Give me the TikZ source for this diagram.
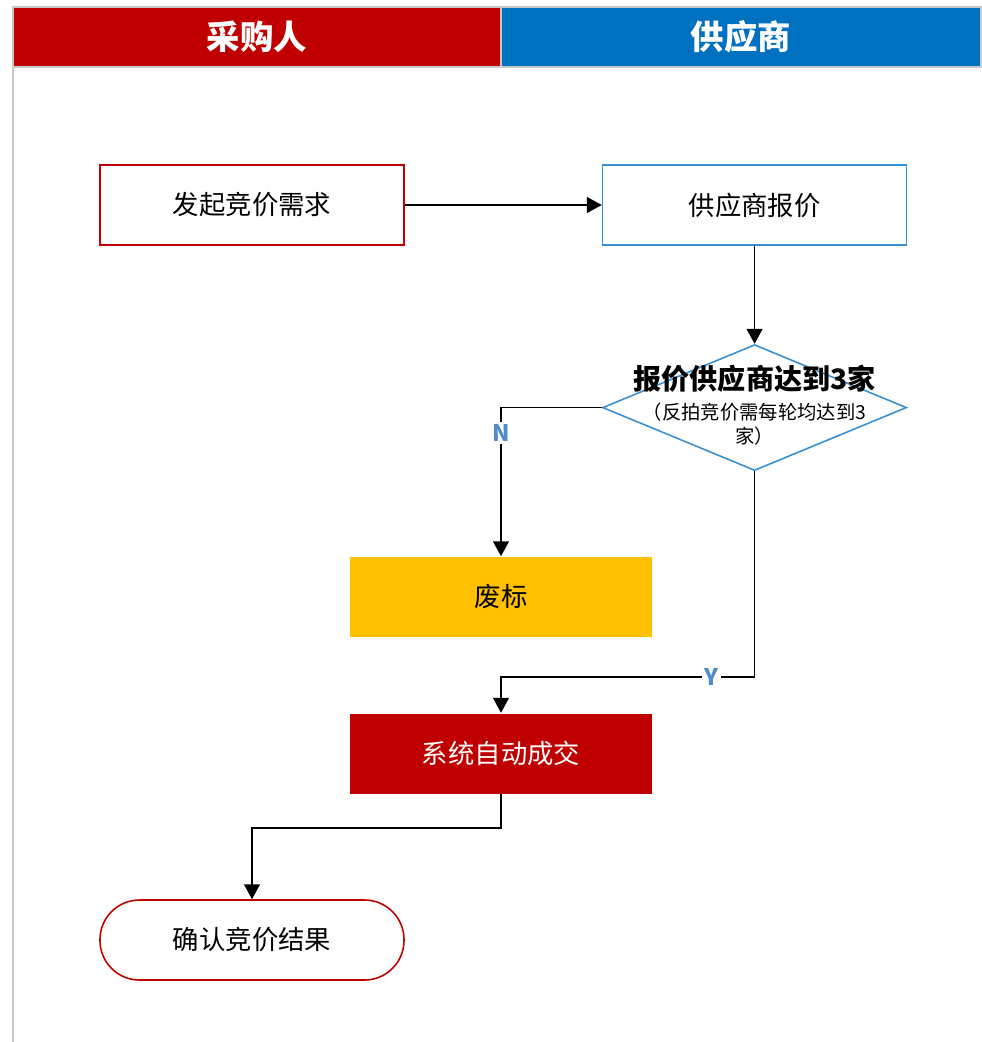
\documentclass[tikz,border=0pt]{standalone}
\usepackage{fontspec}
\setmainfont{Noto Sans CJK SC}
\usetikzlibrary{shapes,arrows.meta,positioning}

\definecolor{buyerred}{HTML}{C00000}
\definecolor{supblue}{HTML}{0070C0}
\definecolor{lineblue}{HTML}{3A8FD3}
\definecolor{failyellow}{HTML}{FFC000}
\definecolor{ynblue}{HTML}{4F8CC9}
\definecolor{frame}{HTML}{C8C8C8}

\begin{document}
\begin{tikzpicture}[
    node distance=1.96cm and 3.94cm,
    lanehead/.style={rectangle, draw=frame, line width=0.6pt, text=white, minimum height=1.2cm, font=\bfseries\fontsize{19}{22}\selectfont},
    box/.style={rectangle, draw, line width=0.9pt, fill=white, minimum width=6.08cm, minimum height=1.6cm, align=center, font=\fontsize{15}{18}\selectfont},
    buyerbox/.style={box, draw=buyerred},
    supbox/.style={box, draw=lineblue},
    failbox/.style={box, draw=none, fill=failyellow, minimum width=6.04cm},
    dealbox/.style={box, draw=none, fill=buyerred, text=white, minimum width=6.04cm},
    endbox/.style={box, draw=buyerred, rounded corners=0.79cm},
    decision/.style={diamond, draw=lineblue, line width=0.9pt, fill=white, minimum width=6.08cm, minimum height=2.52cm, inner sep=0pt},
    yn/.style={fill=white, text=ynblue, inner sep=1.5pt, font=\bfseries\fontsize{13}{15}\selectfont},
    arrow/.style={-{Triangle[length=8.5pt,width=9pt]}, line width=1pt}
]
\useasboundingbox (0,0) rectangle (19.62,-20.84);

% Swimlane headers
\draw[frame, line width=1pt] (0.26,-1.34) -- (0.26,-20.84);
\node[lanehead, fill=buyerred, minimum width=9.76cm] (buyer) at (5.14,-0.74) {采购人};
\node[lanehead, fill=supblue, minimum width=9.6cm] (supplier) at (14.82,-0.74) {供应商};

% Start
\node[buyerbox] (start) at (5.04,-4.10) {发起竞价需求};

% Supplier quote
\node[supbox, right=of start] (quote) {供应商报价};

% Decision
\node[decision, below=of quote] (check) {};
\node[align=center] (checktext) at ([yshift=0.05cm]check.center) {{\bfseries\fontsize{16}{19}\selectfont 报价供应商达到3家}\\[5pt]
    {\fontsize{11}{15}\selectfont （反拍竞价需每轮均达到3}\\[2pt]
    {\fontsize{11}{15}\selectfont 家）}};

% Outcomes
\node[failbox] (fail) at (10.02,-11.94) {废标};
\node[dealbox, below=1.5cm of fail] (deal) {系统自动成交};
\node[endbox] (done) at (5.04,-18.80) {确认竞价结果};

\coordinate[above=0.72cm of deal.north] (dealin);
\coordinate[above=1.42cm of done.north] (donein);

% Arrows
\draw[arrow] (start) -- (quote);
\draw[arrow] (quote) -- (check);
\draw[arrow] (check.west) -| node[yn, pos=0.586] {N} (fail.north);
\draw[arrow] (check.south) |- node[yn, pos=0.585] {Y} (dealin) -- (deal.north);
\draw[arrow] (deal.south) |- (donein) -- (done.north);

\end{tikzpicture}
\end{document}
